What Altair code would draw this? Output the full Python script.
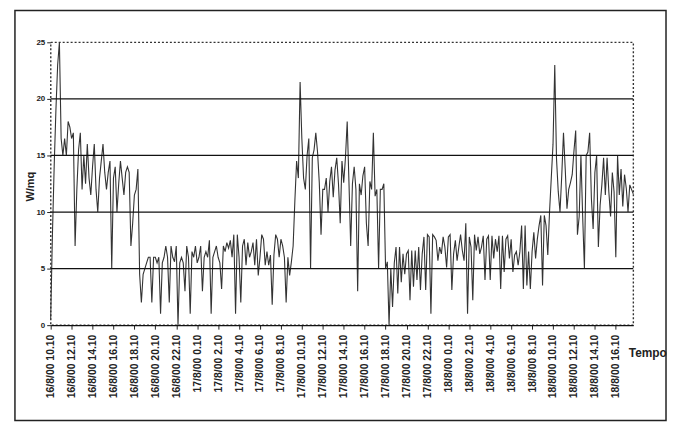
import altair as alt
import pandas as pd

# Irradiance W/mq, 10-minute samples from 16/8/00 10.10
seg_a = [0.5, 8, 14, 19, 23, 25, 16.5, 15, 16.5, 15, 18, 17.5, 16.5, 17, 7, 12, 15.5, 17, 12,
         15, 12.5, 16, 13, 11.5, 14, 16, 12, 10, 13, 14.5, 16, 13.5, 12, 13.5, 14.5, 5, 13, 14, 10,
         12.5, 14.5, 13, 11.5, 13.5, 14, 13.5, 7, 9, 11.5, 12, 13.8]
seg_b = [4.5, 2, 4.5, 5, 5.5, 6, 6, 2, 6, 6, 5.5, 6, 1, 5.5, 6, 7, 6, 2, 7, 6, 5.6, 7, 0, 5.5,
         6, 5.5, 3, 7, 6, 1, 6.5, 6, 7, 5.5, 6, 7, 3, 6, 6.5, 6, 7.5, 1, 6, 6.5, 7, 6, 5.5]
seg_c = [3.2, 7, 6.5, 7.3, 6.8, 7.5, 6, 8, 1, 8, 6, 2, 7, 7.6, 5.3, 7.3, 6, 6.5, 7.3, 5.3, 7.6,
         4.4, 6, 8, 7.6, 5.3, 6.5, 5.3, 6.2, 1.8, 6.2, 8, 7.6, 6, 7.6, 7, 6, 2, 6, 4.4, 5.6, 7, 11,
         14.5, 13, 21.5, 16.5, 13, 12, 15, 16.5]
seg_d = [5, 14.8, 15.5, 17, 15.3, 12.6, 8, 12, 12, 13, 10, 12.7, 14, 11.3, 13.7, 14.8, 12.5, 9,
         14.5, 12.6, 14.8, 18, 12.7, 7, 12.5, 14, 12, 3, 12.5, 11.5, 13.2, 14, 9, 7, 12.7, 12, 17,
         11.4, 12, 5, 12, 12, 12.5, 5, 5.6, 0, 5, 1.6, 5.5]
seg_e = [6.9, 2.8, 6.9, 3.8, 6.3, 4.5, 6.3, 6.6, 2.2, 6.6, 3.4, 6.6, 4, 6.9, 3.1, 6.3, 7.8,
         3.1, 8, 7.8, 1, 8, 7.8, 7.5, 5.7, 6.9, 6.3, 7.8, 6.9, 5.1, 7.8, 8, 3.1, 6.3, 7.5, 5.7,
         6.9, 8, 6.6, 5.7, 9, 1, 7.8, 6.9, 2.2, 8, 6.6, 7.8, 6.3, 6.9]
seg_f = [7.9, 4, 7.6, 7.9, 4, 7.9, 5.9, 7.6, 6.5, 7.9, 3.2, 7.9, 4.7, 7.6, 7.9, 5.9, 7.6,
         4.7, 6.2, 6.5, 5.3, 6.5, 8.8, 3.2, 8.8, 3.5, 6.5, 3.2, 6.5, 8.2, 5.9, 7.6, 8.8, 9.7, 3.5,
         9.7, 8.8, 6.2, 10, 13, 16, 23, 14.7, 11.8, 10, 13.2, 17, 13.8, 10.3, 12, 12.6]
seg_g = [13.3, 15.4, 17.2, 8, 9.6, 15, 9.6, 5, 15, 15.3, 17, 11.2, 8.5, 13.5, 15, 6.9, 10.6, 12.4,
         14.8, 11.5, 14.8, 11.8, 9.6, 13.5, 11.8, 6, 15, 11.5, 13.8, 10.5, 13.3, 12.1,
         10, 12.4, 12, 11.6]

values = seg_a + seg_b + seg_c + seg_d + seg_e + seg_f + seg_g

tick_labels = [
    "16/8/00 10.10", "16/8/00 12.10", "16/8/00 14.10", "16/8/00 16.10", "16/8/00 18.10",
    "16/8/00 20.10", "16/8/00 22.10",
    "17/8/00 0.10", "17/8/00 2.10", "17/8/00 4.10", "17/8/00 6.10", "17/8/00 8.10",
    "17/8/00 10.10", "17/8/00 12.10", "17/8/00 14.10", "17/8/00 16.10", "17/8/00 18.10",
    "17/8/00 20.10", "17/8/00 22.10",
    "18/8/00 0.10", "18/8/00 2.10", "18/8/00 4.10", "18/8/00 6.10", "18/8/00 8.10",
    "18/8/00 10.10", "18/8/00 12.10", "18/8/00 14.10", "18/8/00 16.10",
]
y_ticks = [0, 5, 10, 15, 20, 25]
gridlines = [5, 10, 15, 20]

start = pd.Timestamp("2000-08-16 10:10")
times = [start + pd.Timedelta(minutes=10 * i) for i in range(len(values))]
labels = [f"{t.day}/{t.month}/{t.strftime('%y')} {t.hour}.{t.minute:02d}" for t in times]
df = pd.DataFrame({"t": labels, "v": values})

W, H = 587, 285
FONT = "Liberation Sans"
yscale = alt.Scale(domain=[0, 25], nice=False, zero=True)
yaxis = alt.Axis(values=y_ticks, grid=False, domain=False,
                 tickSize=4, tickColor="#222", labelFont=FONT, labelFontSize=8,
                 labelFontWeight="bold", labelColor="#222", labelPadding=2,
                 title="W/mq", titleFont=FONT, titleFontSize=11,
                 titleFontWeight="bold", titleColor="#222", titleX=-20,
                 titleY=145, titleAngle=-90, titleAlign="center",
                 titleBaseline="middle")

line = alt.Chart(df).mark_line(color="#333333", strokeWidth=1.1).encode(
    x=alt.X("t:O", sort=None, scale=alt.Scale(type="point", padding=0),
            axis=alt.Axis(values=tick_labels, labelAngle=-90, labelFontSize=10.5,
                          labelFont=FONT, labelFontWeight="bold", labelColor="#222",
                          tickSize=4, tickColor="#222", domainColor="#111",
                          domainWidth=1.3, labelPadding=5, grid=False,
                          title="Tempo", titleFont=FONT, titleFontSize=12,
                          titleFontWeight="bold", titleColor="#222", titleX=582,
                          titleY=28, titleAlign="left", titleBaseline="middle",
                          titleAngle=0)),
    y=alt.Y("v:Q", scale=yscale, axis=yaxis),
)

grid = alt.Chart(pd.DataFrame({"g": gridlines})).mark_rule(
    color="#111", strokeWidth=1.3).encode(y=alt.Y("g:Q", scale=yscale, axis=yaxis))

frame = alt.Chart(alt.Data(values=[{}])).mark_rect(
    fillOpacity=0, stroke="#222", strokeWidth=1.5).encode(
    x=alt.value(-36), x2=alt.value(620), y=alt.value(-32), y2=alt.value(381))

chart = alt.layer(line, grid, frame).properties(
    width=W, height=H,
    padding={"left": 6, "top": 0, "right": 0, "bottom": 0},
    background="white",
).configure_view(stroke="#333", strokeDash=[2, 2], strokeWidth=1.4)

chart.save("out.html", embed_options={"renderer": "svg", "actions": False})
